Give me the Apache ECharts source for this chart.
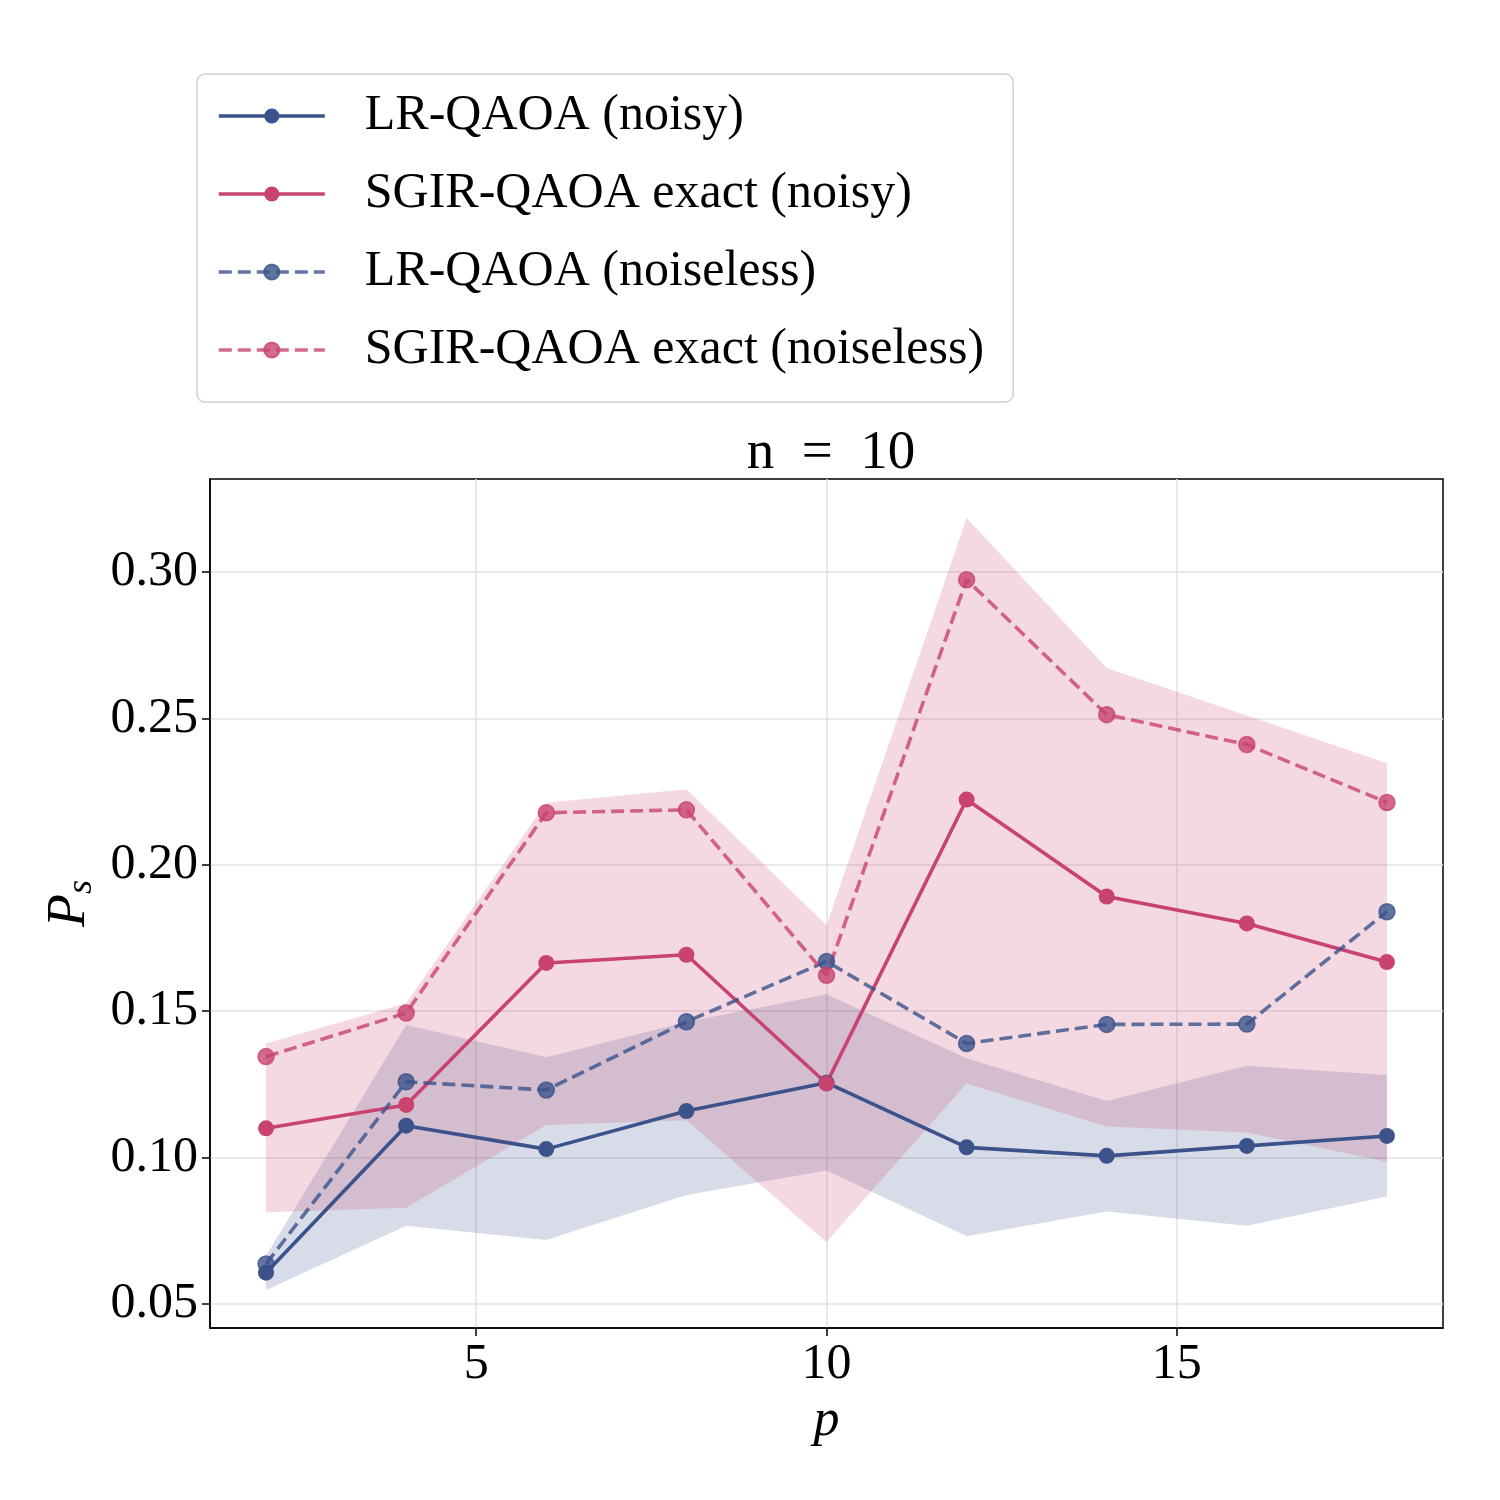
<!DOCTYPE html>
<html>
<head>
<meta charset="utf-8">
<script src="https://cdn.jsdelivr.net/npm/echarts@6/dist/echarts.min.js"></script>
<style>
  html, body { margin: 0; padding: 0; background: #ffffff; }
  #chart { width: 1500px; height: 1500px; }
</style>
</head>
<body>
<div id="chart"></div>
<script>
// circuit depth p
const pValues = [2, 4, 6, 8, 10, 12, 14, 16, 18];

// success probability, mean lines
const lrNoisy = [0.0607, 0.1109, 0.1029, 0.1159, 0.1256, 0.1035, 0.1006, 0.1040, 0.1074];
const sgirNoisy = [0.1100, 0.1180, 0.1665, 0.1693, 0.1253, 0.2223, 0.1892, 0.1800, 0.1668];
const lrNoiseless = [0.0637, 0.1259, 0.1231, 0.1464, 0.1670, 0.1390, 0.1455, 0.1456, 0.1840];
const sgirNoiseless = [0.1345, 0.1494, 0.2178, 0.2188, 0.1623, 0.2974, 0.2513, 0.2411, 0.2213];

// shaded spread bands
const lrBandLow = [0.0548, 0.0767, 0.0719, 0.0872, 0.0956, 0.0731, 0.0816, 0.0767, 0.0867];
const lrBandHigh = [0.0665, 0.1453, 0.1343, 0.1463, 0.1558, 0.1339, 0.1193, 0.1314, 0.1282];
const sgirBandLow = [0.0813, 0.0829, 0.1111, 0.1128, 0.0712, 0.1253, 0.1106, 0.1086, 0.0986];
const sgirBandHigh = [0.1390, 0.1527, 0.2212, 0.2258, 0.1794, 0.3185, 0.2672, 0.2510, 0.2347];

const xTicks = [5, 10, 15];
const yTicks = [0.05, 0.10, 0.15, 0.20, 0.25, 0.30];

const BLUE = "#3b528b";
const PINK = "#c8436f";
const FONT = "Liberation Serif";

function pairs(values) {
  return pValues.map((p, i) => [p, values[i]]);
}

function lineSeries(name, values, color, dashed) {
  return {
    type: "line",
    name: name,
    data: pairs(values),
    symbol: "circle",
    symbolSize: 16,
    z: dashed ? 4 : 3,
    lineStyle: {
      color: color,
      width: 3.6,
      type: dashed ? [13, 6] : "solid",
      opacity: dashed ? 0.8 : 1,
    },
    itemStyle: {
      color: color,
      opacity: dashed ? 0.8 : 1,
      borderColor: color,
      borderWidth: dashed ? 1.5 : 0,
    },
  };
}

function bandSeries(name, low, high, color) {
  return {
    type: "custom",
    name: name,
    silent: true,
    z: 1,
    data: pValues.map((p, i) => [p, low[i], high[i]]),
    encode: { x: 0, y: [1, 2] },
    renderItem: function (params, api) {
      if (params.dataIndex !== 0) return null;
      const top = pValues.map((p, i) => api.coord([p, high[i]]));
      const bottom = pValues.map((p, i) => api.coord([p, low[i]])).reverse();
      return {
        type: "polygon",
        shape: { points: top.concat(bottom) },
        style: { fill: color, opacity: 0.2 },
      };
    },
  };
}

const chart = echarts.init(document.getElementById("chart"));

const options = {
  animation: false,
  backgroundColor: "#ffffff",
  textStyle: { fontFamily: FONT },
  title: {
    text: "n\u2002=\u200210",
    left: 826,
    top: 421,
    textAlign: "center",
    textStyle: { fontFamily: FONT, fontSize: 55, fontWeight: "normal", color: "#000" },
  },
  legend: {
    orient: "vertical",
    left: 197,
    top: 74,
    padding: [17, 29, 27, 20],
    itemWidth: 106,
    itemHeight: 19,
    itemGap: 28,
    backgroundColor: "#ffffff",
    borderColor: "#d0d0d0",
    borderWidth: 1.5,
    borderRadius: 8,
    lineStyle: { width: 3.6 },
    data: [
      "LR-QAOA (noisy)",
      "SGIR-QAOA exact (noisy)",
      "LR-QAOA (noiseless)",
      "SGIR-QAOA exact (noiseless)",
    ],
    textStyle: { fontFamily: FONT, fontSize: 50, color: "#000", padding: [0, 0, 0, 35] },
  },
  grid: {
    left: 210,
    top: 479,
    width: 1233,
    height: 849,
    show: true,
    borderColor: "#000",
    borderWidth: 1.5,
    backgroundColor: "transparent",
  },
  xAxis: {
    type: "value",
    min: 1.2,
    max: 18.8,
    name: "p",
    nameLocation: "middle",
    nameGap: 62,
    nameTextStyle: { fontFamily: FONT, fontStyle: "italic", fontSize: 52, color: "#000" },
    axisLine: { show: true, lineStyle: { color: "#000", width: 1.5 } },
    axisTick: { show: true, length: 8, customValues: xTicks, lineStyle: { color: "#000", width: 1.5 } },
    axisLabel: {
      customValues: xTicks,
      margin: 12,
      fontFamily: FONT,
      fontSize: 50,
      color: "#000",
    },
    splitLine: { show: true, lineStyle: { color: "#e2e2e2", width: 1.5 } },
  },
  yAxis: {
    type: "value",
    min: 0.0418,
    max: 0.3318,
    name: "{p|P}{s|s}",
    nameLocation: "middle",
    nameRotate: 90,
    nameGap: 100,
    nameTextStyle: {
      fontFamily: FONT,
      fontStyle: "italic",
      color: "#000",
      rich: {
        p: { fontFamily: FONT, fontStyle: "italic", fontSize: 54, lineHeight: 60, verticalAlign: "middle" },
        s: { fontFamily: FONT, fontStyle: "italic", fontSize: 36, lineHeight: 28, verticalAlign: "bottom" },
      },
    },
    axisLine: { show: true, lineStyle: { color: "#000", width: 1.5 } },
    axisTick: { show: true, length: 8, customValues: yTicks, lineStyle: { color: "#000", width: 1.5 } },
    axisLabel: {
      customValues: yTicks,
      margin: 12,
      fontFamily: FONT,
      fontSize: 50,
      color: "#000",
      formatter: (v) => v.toFixed(2),
    },
    splitLine: { show: true, lineStyle: { color: "#e2e2e2", width: 1.5 } },
  },
  series: [
    bandSeries("LR band", lrBandLow, lrBandHigh, BLUE),
    bandSeries("SGIR band", sgirBandLow, sgirBandHigh, PINK),
    lineSeries("LR-QAOA (noisy)", lrNoisy, BLUE, false),
    lineSeries("SGIR-QAOA exact (noisy)", sgirNoisy, PINK, false),
    lineSeries("LR-QAOA (noiseless)", lrNoiseless, BLUE, true),
    lineSeries("SGIR-QAOA exact (noiseless)", sgirNoiseless, PINK, true),
  ],
};

chart.setOption(options);
</script>
</body>
</html>
